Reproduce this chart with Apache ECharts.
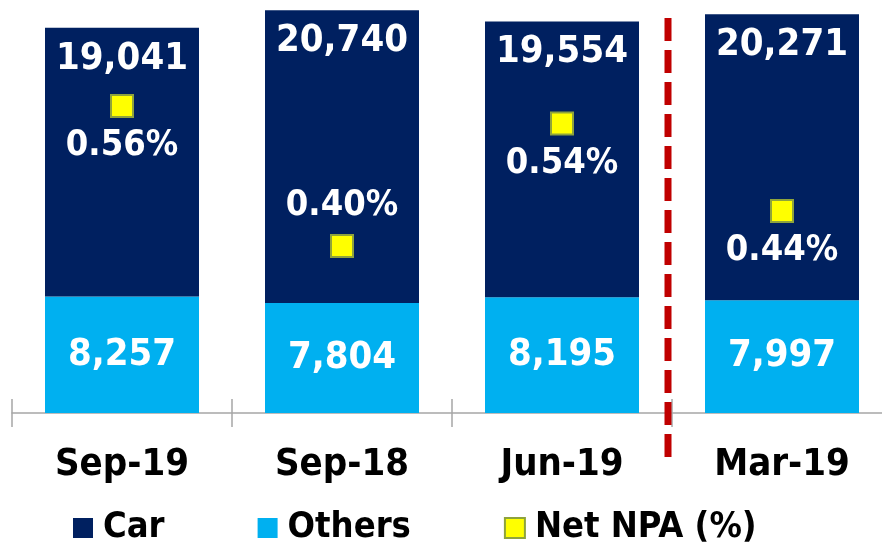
<!DOCTYPE html>
<html>
<head>
<meta charset="utf-8">
<script src="https://cdn.jsdelivr.net/npm/echarts@6/dist/echarts.min.js"></script>
<style>
  html, body { margin: 0; padding: 0; background: #fff; }
  #main { width: 882px; height: 543px; }
</style>
</head>
<body>
<div id="main"></div>
<script>
// data
const categories = ['Sep-19', 'Sep-18', 'Jun-19', 'Mar-19'];
const carValues = [19041, 20740, 19554, 20271];
const othersValues = [8257, 7804, 8195, 7997];
const netNpaValues = [0.56, 0.40, 0.54, 0.44];

// label side for the NPA points (style only)
const npaLabelSide = ['bottom', 'top', 'bottom', 'bottom'];

const FONT = '"DejaVu Sans Condensed", "Liberation Sans", sans-serif';

let chart = echarts.init(document.getElementById('main'));

let option = {
  animation: false,
  grid: { left: 12, top: 0, width: 880, height: 413, outerBoundsMode: 'none' },
  legend: {
    left: 73,
    top: 510,
    padding: 0,
    itemWidth: 20,
    itemHeight: 20,
    itemGap: 93,
    textStyle: {
      fontFamily: FONT, fontSize: 36, fontWeight: 'bold', color: '#000',
      padding: [0, 0, 0, 5]
    },
    data: [
      { name: 'Car', icon: 'rect' },
      { name: 'Others', icon: 'rect' },
      { name: 'Net NPA (%)', icon: 'rect' }
    ]
  },
  xAxis: [
    {
      type: 'category',
      data: categories,
      position: 'bottom',
      axisLine: { lineStyle: { color: '#a6a6a6', width: 1.5 } },
      axisTick: { show: true, length: 14, lineStyle: { color: '#a6a6a6', width: 1.5 } },
      axisLabel: {
        margin: 33,
        fontFamily: FONT,
        fontSize: 38,
        fontWeight: 'bold',
        color: '#000'
      }
    },
    {
      // second copy only to draw the upper half of the ticks
      type: 'category',
      data: categories,
      position: 'bottom',
      axisLine: { show: false },
      axisTick: { show: true, inside: true, length: 14, lineStyle: { color: '#a6a6a6', width: 1.5 } },
      axisLabel: { show: false }
    }
  ],
  yAxis: [
    { type: 'value', min: 0, max: 29270, show: false, splitLine: { show: false } },
    { type: 'value', min: 0.209, max: 0.681, show: false, splitLine: { show: false } }
  ],
  series: [
    {
      name: 'Others',
      type: 'bar',
      stack: 'total',
      barWidth: '70%',
      itemStyle: { color: '#00b0f0' },
      label: {
        show: true,
        position: 'inside',
        fontFamily: FONT,
        fontSize: 38,
        fontWeight: 'bold',
        color: '#fff',
        formatter: p => p.value.toLocaleString('en-US')
      },
      data: othersValues
    },
    {
      name: 'Car',
      type: 'bar',
      stack: 'total',
      barWidth: '70%',
      itemStyle: { color: '#002060' },
      label: {
        show: true,
        position: 'insideTop',
        distance: 12,
        fontFamily: FONT,
        fontSize: 38,
        fontWeight: 'bold',
        color: '#fff',
        formatter: p => p.value.toLocaleString('en-US')
      },
      data: carValues
    },
    {
      name: 'Net NPA (%)',
      type: 'scatter',
      yAxisIndex: 1,
      symbol: 'rect',
      symbolSize: 22,
      itemStyle: { color: '#ffff00', borderColor: '#8ea33c', borderWidth: 2, opacity: 1 },
      z: 5,
      data: netNpaValues.map((v, i) => ({
        value: v,
        label: { position: npaLabelSide[i] }
      })),
      label: {
        show: true,
        distance: 10,
        fontFamily: FONT,
        fontSize: 36,
        fontWeight: 'bold',
        color: '#fff',
        formatter: p => p.value.toFixed(2) + '%'
      }
    }
  ]
};

chart.setOption(option);

// red dashed divider between Jun-19 and Mar-19
let xa = chart.convertToPixel({ xAxisIndex: 0 }, 'Jun-19');
let xb = chart.convertToPixel({ xAxisIndex: 0 }, 'Mar-19');
let xDiv = (xa + xb) / 2 - 4;
chart.setOption({
  graphic: [{
    type: 'line',
    z: 10,
    shape: { x1: xDiv, y1: 18, x2: xDiv, y2: 457 },
    style: { stroke: '#c00000', lineWidth: 7, lineDash: [23, 9] }
  }]
});
</script>
</body>
</html>
